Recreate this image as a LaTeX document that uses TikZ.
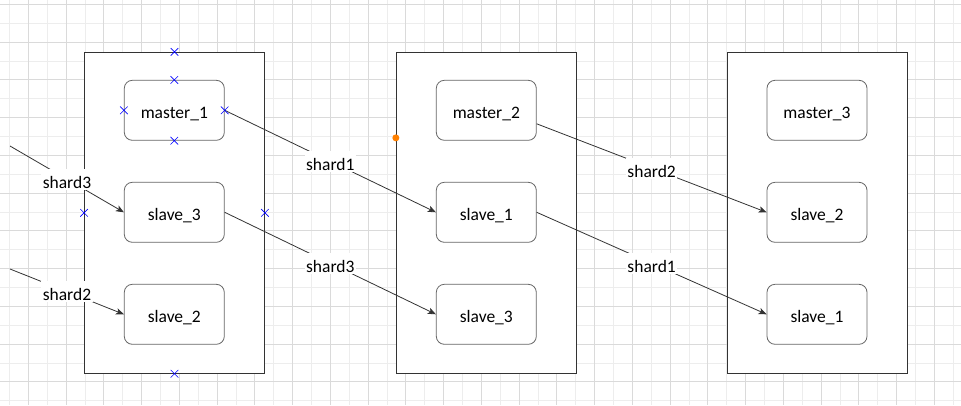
\documentclass[tikz,border=0pt]{standalone}
\usepackage{fontspec}
\setmainfont{Carlito}
\usetikzlibrary{arrows.meta, shapes.misc}

\definecolor{gridmajor}{HTML}{DADADA}
\definecolor{gridminor}{HTML}{EDEDED}
\definecolor{linegray}{HTML}{333333}
\definecolor{boxgray}{HTML}{666666}
\definecolor{dotorange}{HTML}{FF8000}

\begin{document}
\begin{tikzpicture}[x=1pt, y=-1pt,
    group/.style={draw=linegray, line width=0.9pt, fill=white, minimum width=180pt, minimum height=321pt, inner sep=0pt},
    srv/.style={draw=boxgray, line width=0.8pt, fill=white, rounded corners=8pt, minimum width=100pt, minimum height=60pt, inner sep=0pt, text height=15.5pt, text depth=0pt, font=\fontsize{17.5}{20}\selectfont},
    conn/.style={draw=linegray, line width=0.8pt, -{Stealth[length=8pt, width=6.5pt, inset=2pt]}},
    lbl/.style={fill=white, inner sep=1.5pt, text height=18pt, text depth=0pt, font=\fontsize{17.5}{20}\selectfont},
    xmark/.style={draw=blue, cross out, minimum size=7pt, inner sep=0pt, line width=0.6pt}]

    % Page and grid
    \useasboundingbox (0,0) rectangle (961,405);
    \fill[white] (0,0) rectangle (961,405);
    \foreach \j in {0,...,25}
    {
        \draw[gridminor, line width=0.8pt] ({9.4+37.75*\j},0) -- ++(0,405);
    }
    \foreach \j in {0,...,10}
    {
        \draw[gridminor, line width=0.8pt] (0,{23.175+37.75*\j}) -- ++(961,0);
    }
    \foreach \j in {0,...,24}
    {
        \draw[gridmajor, line width=0.8pt] ({28.275+37.75*\j},0) -- ++(0,405);
    }
    \foreach \j in {0,...,10}
    {
        \draw[gridmajor, line width=0.8pt] (0,{4.3+37.75*\j}) -- ++(961,0);
    }

    % Groups
    \node[group] (g1) at (174.5,212.8) {};
    \node[group] (g2) at (486.3,212.8) {};
    \node[group] (g3) at (817.3,212.8) {};

    % Group 1
    \node[srv] (m1) at (174.3,110.3) {master\_1};
    \node[srv] (s3a) at (174.3,212.3) {slave\_3};
    \node[srv] (s2a) at (174.3,314.3) {slave\_2};

    % Group 2
    \node[srv] (m2) at (486.3,110.3) {master\_2};
    \node[srv] (s1b) at (486.3,212.3) {slave\_1};
    \node[srv] (s3b) at (486.3,314.3) {slave\_3};

    % Group 3
    \node[srv] (m3) at (817,110.3) {master\_3};
    \node[srv] (s2c) at (817,212.3) {slave\_2};
    \node[srv] (s1c) at (817,314.3) {slave\_1};

    % Incoming ends from the left
    \coordinate (in3) at (10,146);
    \coordinate (in2) at (10,269);

    % Shard connectors
    \draw[conn] (in3) -- node[lbl] {shard3} (s3a.west);
    \draw[conn] (in2) -- node[lbl] {shard2} (s2a.west);
    \draw[conn] (m1.east) -- node[lbl] {shard1} (s1b.west);
    \draw[conn] (s3a.east) -- node[lbl] {shard3} (s3b.west);
    \draw[conn] (m2.-15) -- node[lbl] {shard2} (s2c.west);
    \draw[conn] (s1b.east) -- node[lbl] {shard1} (s1c.west);

    % Selection handles
    \foreach \p in {g1.north, g1.south, g1.west, g1.east, m1.north, m1.south, m1.west, m1.east}
    {
        \node[xmark] at (\p) {};
    }

    % Hover point
    \fill[dotorange] (g2.north west) ++(0,86) circle (3.5);
\end{tikzpicture}
\end{document}
